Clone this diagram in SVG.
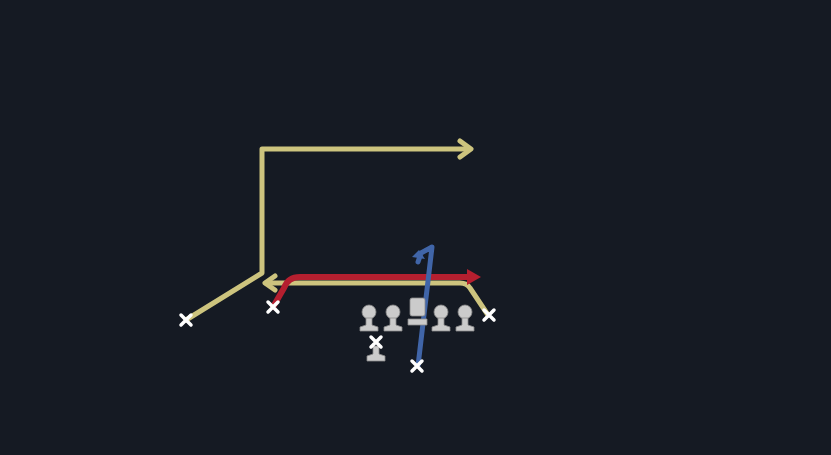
<svg xmlns="http://www.w3.org/2000/svg" width="831" height="455" viewBox="0 0 831 455">
<defs>
<style>
.y{fill:none;stroke:#cdc47e;stroke-width:5;stroke-linejoin:round;stroke-linecap:round}
.r{fill:none;stroke:#b51f2f;stroke-width:6;stroke-linejoin:round;stroke-linecap:round}
.b{fill:none;stroke:#4065a8;stroke-width:5;stroke-linejoin:round;stroke-linecap:round}
.x{stroke:#ffffff;stroke-width:3.5;stroke-linecap:round}
.p{fill:#cbcbcb;stroke:#8a8a8a;stroke-width:0.8}
</style>
<g id="xm"><path class="x" d="M-5,-5L5,5M5,-5L-5,5"/></g>
<g id="pawn"><circle class="p" cx="0" cy="-6" r="7"/><path class="p" d="M-3,0L-3,7L-9,9L-9,13L9,13L9,9L3,7L3,0Z"/></g>
</defs>
<rect width="831" height="455" fill="#151a23"/>
<g id="connectors">
<path class="y" d="M186,320L262,273L262,149L468,149"/>
<path class="y" d="M460,141L471,149L460,157"/>
<path class="y" d="M488,315L470,288Q467,283 460,283L266,283"/>
<path class="y" d="M275,276L265,283L275,290"/>
<path class="r" d="M273,307L284,288Q288,277 300,277L472,277"/>
<path d="M467,269L481,277L467,285Z" fill="#b51f2f"/>
<path class="b" d="M418,366L432,247L421,253L418,262"/>
<path d="M412,257L419,250L425,259Z" fill="#4065a8"/>
</g>
<g id="wr-left"><use href="#xm" x="186" y="320"/></g>
<g id="wr-slot"><use href="#xm" x="273" y="307"/></g>
<g id="te-right"><use href="#xm" x="489" y="315"/></g>
<g id="rb"><use href="#xm" x="417" y="366"/></g>
<g id="lt"><use href="#pawn" x="369" y="318"/></g>
<g id="lg"><use href="#pawn" x="393" y="318"/></g>
<g id="center"><rect class="p" x="410" y="298" width="15" height="18" rx="2"/><path class="p" d="M408,319L427,319L427,325L408,325Z"/></g>
<g id="rg"><use href="#pawn" x="441" y="318"/></g>
<g id="rt"><use href="#pawn" x="465" y="318"/></g>
<g id="qb"><path class="p" d="M373,346L379,346L379,354L385,356L385,361L367,361L367,356L373,354Z"/><use href="#xm" x="376" y="342"/></g>
</svg>
